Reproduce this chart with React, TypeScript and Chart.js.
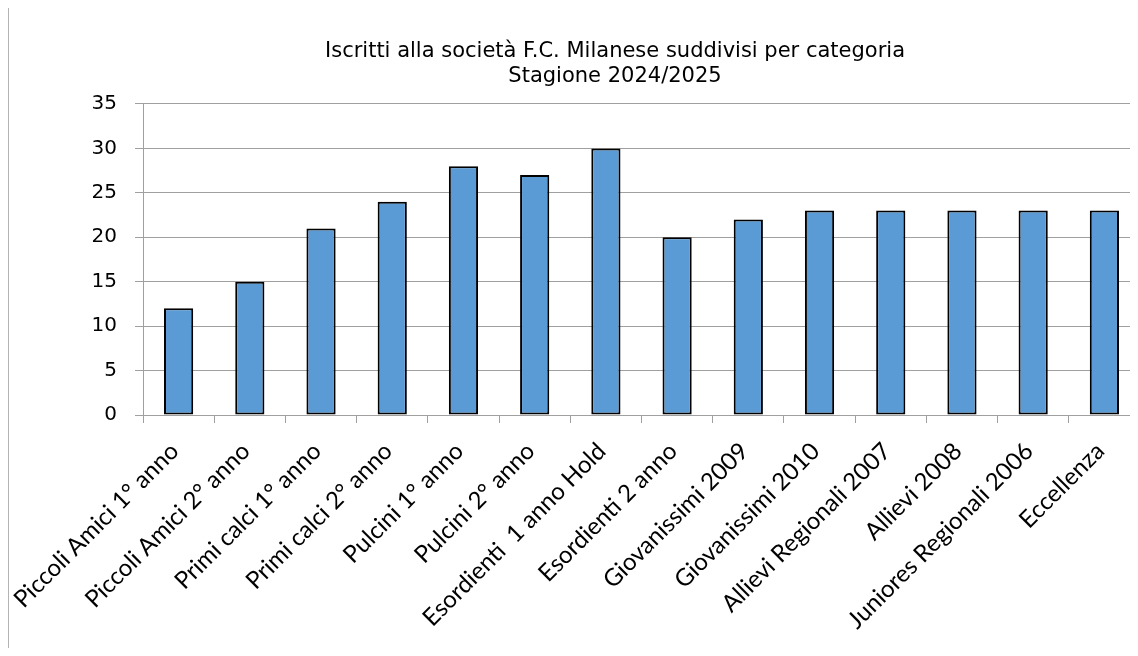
import React, { useEffect, useRef } from "react";
import { Chart, registerables } from "chart.js";

Chart.register(...registerables);

const categories: string[] = [
  "Piccoli Amici 1° anno",
  "Piccoli Amici 2° anno",
  "Primi calci 1° anno",
  "Primi calci 2° anno",
  "Pulcini 1° anno",
  "Pulcini 2° anno",
  "Esordienti  1 anno Hold",
  "Esordienti 2 anno",
  "Giovanissimi 2009",
  "Giovanissimi 2010",
  "Allievi Regionali 2007",
  "Allievi 2008",
  "Juniores Regionali 2006",
  "Eccellenza",
];

const iscritti: number[] = [12, 15, 21, 24, 28, 27, 30, 20, 22, 23, 23, 23, 23, 23];

const titleLines: string[] = [
  "Iscritti alla società F.C. Milanese suddivisi per categoria",
  "Stagione 2024/2025",
];

const yMin = 0;
const yMax = 35;
const yStep = 5;

const CANVAS_W = 1212;
const CANVAS_H = 700;

export default function App() {
  const ref = useRef<HTMLCanvasElement | null>(null);

  useEffect(() => {
    document.body.style.overflow = "hidden";
    const canvas = ref.current;
    if (!canvas) return;
    const grid = "#a0a0a0";
    const chart = new Chart(canvas, {
      type: "bar",
      data: {
        labels: categories,
        datasets: [
          {
            label: "Iscritti",
            data: iscritti,
            backgroundColor: "#5B9BD5",
            borderColor: "#000000",
            borderWidth: 2,
            borderSkipped: false,
            barPercentage: 0.41,
            categoryPercentage: 1,
            yAxisID: "y",
          },
        ],
      },
      options: {
        responsive: false,
        animation: false,
        devicePixelRatio: 1,
        layout: { padding: { left: 0, right: 0, top: 0, bottom: 0 } },
        plugins: {
          legend: { display: false },
          tooltip: { enabled: false },
          title: {
            display: true,
            text: titleLines,
            color: "#000000",
            font: { family: "'DejaVu Sans'", size: 21, weight: "normal", lineHeight: 1.19 },
            padding: { top: 31, bottom: 15 },
          },
        },
        scales: {
          x: {
            type: "category",
            afterFit: (s: any) => {
              s.height = 293;
              s.paddingLeft = 0;
              s.paddingRight = 0;
            },
            grid: {
              display: true,
              drawOnChartArea: false,
              drawTicks: true,
              tickLength: 8,
              color: grid,
              offset: true,
            },
            border: { display: true, color: grid, width: 1 },
            ticks: {
              color: "#000000",
              maxRotation: 45,
              minRotation: 45,
              autoSkip: false,
              padding: 14,
              labelOffset: -4,
              font: { family: "Lato", size: 24 },
            },
          },
          y: {
            position: "left",
            min: yMin,
            max: yMax,
            afterFit: (s: any) => {
              s.width = 134;
              s.paddingTop = 0;
              s.paddingBottom = 0;
            },
            grid: {
              color: grid,
              lineWidth: 1,
              drawTicks: true,
              tickLength: 8,
            },
            border: { display: true, color: grid, width: 1 },
            ticks: {
              stepSize: yStep,
              color: "#000000",
              padding: 18,
              font: { family: "'DejaVu Sans'", size: 20 },
            },
          },
          yRight: {
            type: "linear",
            position: "right",
            display: true,
            min: yMin,
            max: yMax,
            afterFit: (s: any) => {
              s.width = 81;
              s.paddingTop = 0;
              s.paddingBottom = 0;
            },
            grid: { display: false, drawTicks: false, drawOnChartArea: false },
            border: { display: false },
            ticks: { display: false },
          },
        },
      },
    });
    return () => chart.destroy();
  }, []);

  return (
    <div style={{ width: 1130, height: 641, marginTop: -1, overflow: "hidden" }}>
      <div
        style={{
          width: 1240,
          height: 720,
          borderTop: "1px solid #b3b3b3",
          borderLeft: "1px solid #b3b3b3",
          boxSizing: "border-box",
          background: "#ffffff",
        }}
      >
        <canvas
          ref={ref}
          width={CANVAS_W}
          height={CANVAS_H}
          style={{ display: "block", width: CANVAS_W, height: CANVAS_H }}
        />
      </div>
    </div>
  );
}
